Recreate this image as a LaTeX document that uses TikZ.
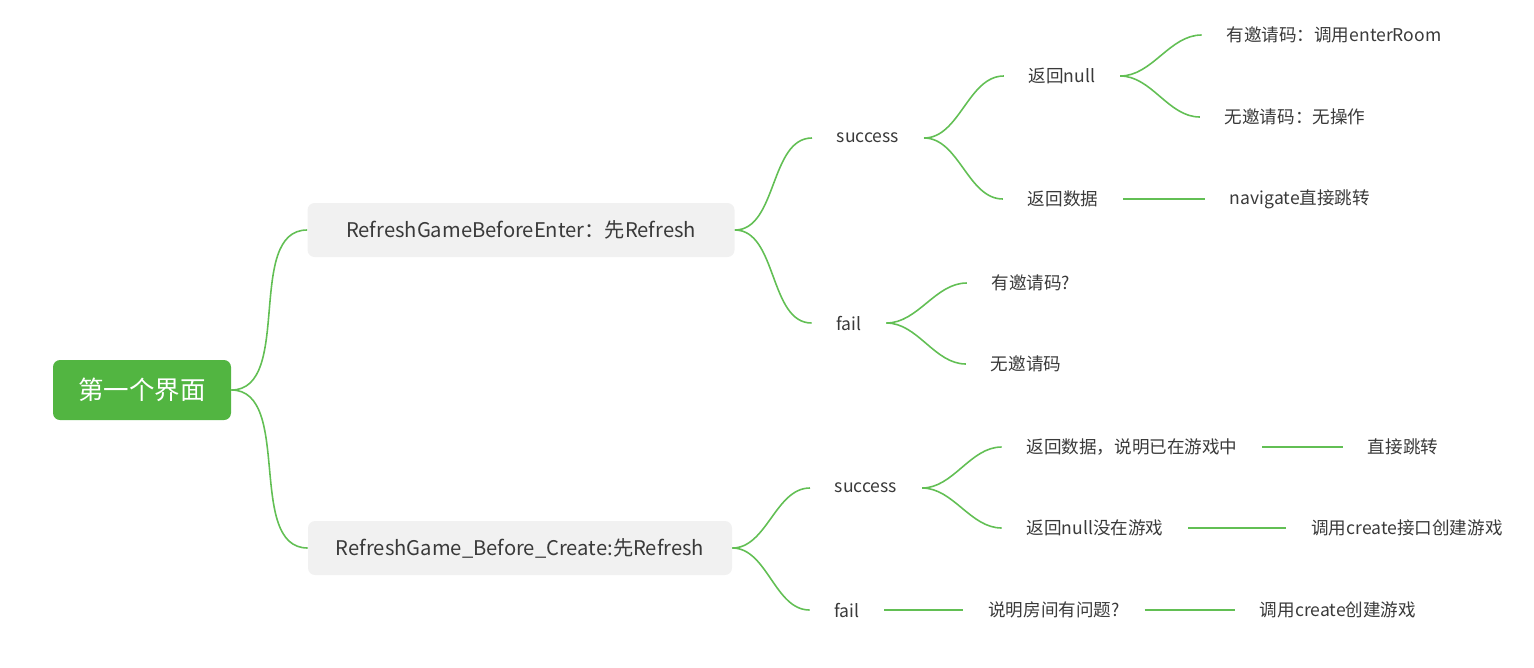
\documentclass[tikz,border=0pt]{standalone}
\usepackage{fontspec}
\setmainfont{Noto Sans CJK SC}
\usepackage{tikz}
\usetikzlibrary{
	arrows.meta,
	positioning
}
\definecolor{ramoverde}{RGB}{98,191,84}
\definecolor{raizverde}{RGB}{82,181,65}
\definecolor{caixacinza}{RGB}{241,241,241}
\definecolor{textocinza}{RGB}{58,58,58}

\begin{document}
\begin{tikzpicture}[
			x=0.02cm, y=-0.02cm,
			font=\fontsize{10}{12}\selectfont,
			raiz/.style={fill=raizverde, text=white, rounded corners=4pt, minimum width=178*0.02cm, minimum height=60*0.02cm, font=\fontsize{14.5}{17}\selectfont},
			caixa/.style={fill=caixacinza, text=textocinza, rounded corners=4pt, minimum height=54*0.02cm, font=\fontsize{11.5}{14}\selectfont},
			folha/.style={text=textocinza, inner xsep=14pt, inner ysep=2pt},
			ramo/.style={draw=ramoverde, line width=0.9pt},
			curva/.style={out=0, in=180, looseness=0.9}
		]
		\useasboundingbox (0,0) rectangle (1534,667);

		\node[raiz] (root) at (142,390) {第一个界面};
		\node[caixa, minimum width=427*0.02cm] (enter) at (521,230) {RefreshGameBeforeEnter：先Refresh};
		\node[caixa, minimum width=424*0.02cm] (create) at (520,548) {RefreshGame\_Before\_Create:先Refresh};

		% primeiro ramo
		\node[folha] (esucc) at (868,138) {success};
		\node[folha] (efail) at (849,323) {fail};
		\node[folha] (enull) at (1062,76) {返回null};
		\node[folha] (edata) at (1063,199) {返回数据};
		\node[folha] (ecode) at (1334,35) {有邀请码：调用enterRoom};
		\node[folha] (enocode) at (1295,117) {无邀请码：无操作};
		\node[folha] (enav) at (1300,199) {navigate直接跳转};
		\node[folha] (fcode) at (1031,283) {有邀请码?};
		\node[folha] (fnocode) at (1026,364) {无邀请码};

		% segundo ramo
		\node[folha] (csucc) at (866,488) {success};
		\node[folha] (cfail) at (847,610) {fail};
		\node[folha] (cdata) at (1132,447) {返回数据，说明已在游戏中};
		\node[folha] (cnull) at (1095,528) {返回null没在游戏};
		\node[folha] (cjump) at (1403,447) {直接跳转};
		\node[folha] (cnew) at (1407,528) {调用create接口创建游戏};
		\node[folha] (croom) at (1054,610) {说明房间有问题?};
		\node[folha] (cnew2) at (1338,610) {调用create创建游戏};

		\draw[ramo] (root.east) to[curva] (enter.west);
		\draw[ramo] (root.east) to[curva] (create.west);

		\draw[ramo] (enter.east) to[curva] (esucc.west);
		\draw[ramo] (enter.east) to[curva] (efail.west);
		\draw[ramo] (esucc.east) to[curva] (enull.west);
		\draw[ramo] (esucc.east) to[curva] (edata.west);
		\draw[ramo] (enull.east) to[curva] (ecode.west);
		\draw[ramo] (enull.east) to[curva] (enocode.west);
		\draw[ramo] (edata) -- (enav);
		\draw[ramo] (efail.east) to[curva] (fcode.west);
		\draw[ramo] (efail.east) to[curva] (fnocode.west);

		\draw[ramo] (create.east) to[curva] (csucc.west);
		\draw[ramo] (create.east) to[curva] (cfail.west);
		\draw[ramo] (csucc.east) to[curva] (cdata.west);
		\draw[ramo] (csucc.east) to[curva] (cnull.west);
		\draw[ramo] (cdata) -- (cjump);
		\draw[ramo] (cnull) -- (cnew);
		\draw[ramo] (cfail) -- (croom);
		\draw[ramo] (croom) -- (cnew2);
	\end{tikzpicture}
\end{document}
